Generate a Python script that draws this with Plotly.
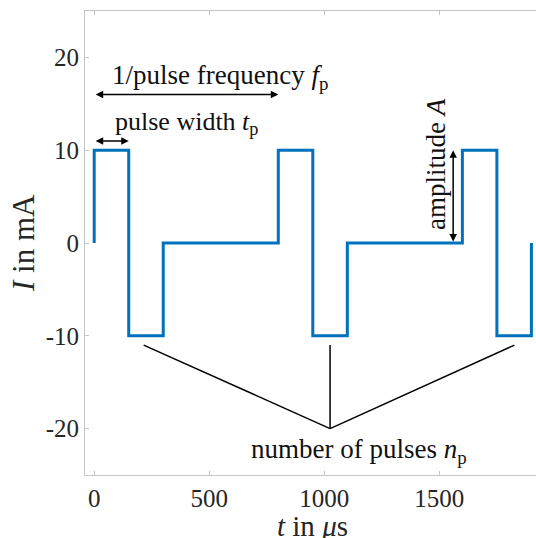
import plotly.graph_objects as go

# Data
times = [0, 0, 150, 300, 800, 950, 1100, 1600, 1750, 1900]
current = [0, 10, -10, 0, 10, -10, 0, 10, -10, 0]

x_ticks = [0, 500, 1000, 1500]
y_ticks = [-20, -10, 0, 10, 20]

# annotation geometry (data units)
np_vertex = (1025, -20)
np_ends = [(215, -11), (1025, -11), (1826, -11)]

FONT = "Liberation Serif"
fig = go.Figure()
fig.add_trace(go.Scatter(x=times, y=current, mode="lines", line_shape="hv",
                         line=dict(color="#0072BD", width=3), showlegend=False))

# number of pulses lines
for (ex, ey) in np_ends:
    fig.add_trace(go.Scatter(x=[np_vertex[0], ex], y=[np_vertex[1], ey], mode="lines",
                             line=dict(color="black", width=1.5), showlegend=False))

def darrow(x0, y0, x1, y1):
    fig.add_annotation(x=x1, y=y1, ax=x0, ay=y0, xref="x", yref="y", axref="x", ayref="y",
                       showarrow=True, arrowhead=2, startarrowhead=2, arrowside="end+start",
                       arrowsize=1, arrowwidth=1.5, arrowcolor="black", text="")

darrow(0, 16, 800, 16)
darrow(0, 11, 150, 11)
darrow(1560, 0, 1560, 10)

afont = dict(family=FONT, size=27, color="#111111")
fig.add_annotation(x=545, y=17.9, text="1/pulse frequency <i>f</i><sub>p</sub>", showarrow=False, font=afont)
fig.add_annotation(x=400, y=12.9, text="pulse width <i>t</i><sub>p</sub>", showarrow=False,
                   font=dict(family=FONT, size=26, color="#111111"))
fig.add_annotation(x=1152, y=-22.4, text="number of pulses <i>n</i><sub>p</sub>", showarrow=False, font=afont)
fig.add_annotation(x=1485, y=8.5, text="amplitude <i>A</i>", showarrow=False, font=afont, textangle=-90)

# axis titles as annotations
tfont = dict(family=FONT, size=29, color="#262626")
fig.add_annotation(xref="paper", yref="paper", x=0.505, y=0, yanchor="middle", yshift=-51,
                   text="<i>t</i> in <i>μ</i>s", showarrow=False, font=tfont)
fig.add_annotation(xref="paper", yref="paper", x=0, y=0.5, xanchor="center", xshift=-62,
                   text="<i>I</i> in mA", showarrow=False, font=dict(family=FONT, size=31, color="#262626"),
                   textangle=-90)

axis_common = dict(showgrid=False, zeroline=False, showline=True, linecolor="#c4c4c4", linewidth=1,
                   ticks="inside", ticklen=4, tickcolor="#c4c4c4", automargin=False,
                   tickfont=dict(family=FONT, size=25, color="#262626"))
fig.update_xaxes(range=[-40, 1920], tickvals=x_ticks, ticktext=[str(v) for v in x_ticks], mirror="ticks",
                 ticklabelstandoff=1, **axis_common)
fig.update_yaxes(range=[-25, 25], tickvals=y_ticks, ticktext=[str(v) for v in y_ticks], mirror=False,
                 ticklabelstandoff=0, **axis_common)
fig.update_layout(width=536, height=538, margin=dict(l=85, r=0, t=11, b=63),
                  plot_bgcolor="white", paper_bgcolor="white")
fig.write_html("out.html", config={"displayModeBar": False},
               post_script="document.body.style.margin='0';"
                           "document.documentElement.style.overflow='hidden';"
                           "document.body.style.overflow='hidden';")
